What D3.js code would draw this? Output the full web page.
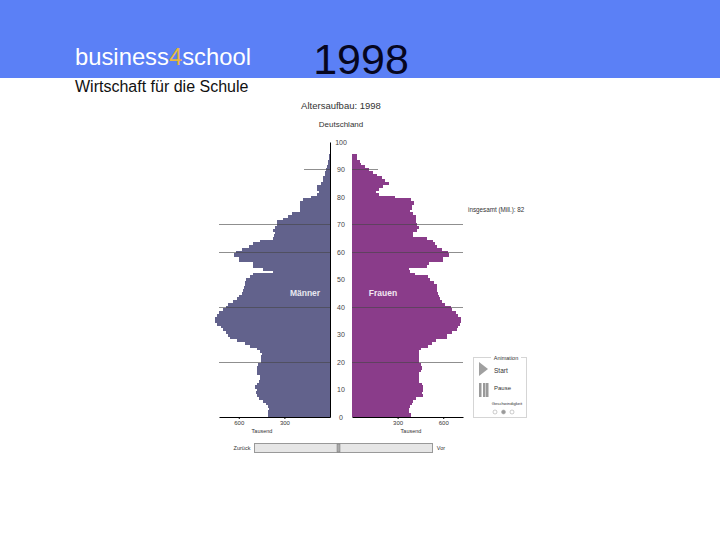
<!DOCTYPE html>
<html>
<head>
<meta charset="utf-8">
<script src="https://cdn.jsdelivr.net/npm/d3@7"></script>
<style>
html, body { margin: 0; padding: 0; background: #fff; }
text { font-family: "Liberation Sans", Arial, sans-serif; }
</style>
</head>
<body>
<svg id="chart" width="720" height="540"></svg>
<script>
'use strict';

var ageTicks = [0, 10, 20, 30, 40, 50, 60, 70, 80, 90, 100];
var gridAges = [20, 40, 60, 70];
var shortGridAges = [90];
var valueTicks = [300, 600];

// thousands per year of age, index = age
var maleValues = [405, 405, 410, 399, 405, 423, 438, 464, 482, 486,
    477, 493, 477, 464, 460, 460, 477, 482, 482, 471,
    456, 456, 456, 449, 460, 482, 526, 558, 613, 657,
    668, 683, 701, 718, 740, 758, 756, 745, 727, 705,
    683, 668, 635, 613, 596, 580, 574, 565, 558, 558,
    552, 526, 504, 377, 438, 504, 504, 596, 598, 629,
    618, 580, 532, 508, 460, 372, 368, 361, 372, 361,
    346, 346, 307, 274, 252, 197, 197, 197, 197, 180,
    127, 83, 72, 88, 83, 61, 48, 44, 33, 31,
    26, 22, 15, 11, 7, 4];

var femaleValues = [388, 388, 377, 374, 381, 392, 403, 420, 464, 458,
    469, 469, 458, 442, 438, 438, 442, 451, 458, 451,
    440, 438, 438, 438, 442, 451, 501, 523, 552, 626,
    626, 655, 692, 699, 710, 714, 714, 699, 683, 655,
    648, 611, 589, 578, 569, 567, 561, 561, 556, 539,
    512, 501, 414, 381, 374, 491, 506, 596, 596, 639,
    633, 591, 556, 548, 530, 491, 399, 403, 429, 438,
    429, 420, 420, 420, 399, 381, 392, 392, 407, 388,
    283, 180, 158, 180, 201, 245, 217, 195, 166, 140,
    114, 85, 57, 53, 31, 31];

var svg = d3.select('#chart');

var y = d3.scaleLinear().domain([0, 100]).range([417, 142]);
var xLeft = d3.scaleLinear().domain([0, 730]).range([330, 219]);
var xRight = d3.scaleLinear().domain([0, 730]).range([352, 463]);
var barHeight = y(0) - y(1);

var maleColor = '#62628c';
var femaleColor = '#8a3c8a';

function barTop(d, i) {
    return y(i) - barHeight / 2;
}

// bars overlap a little to hide seams, the lowest one stops at the baseline
function barBottomHeight(d, i) {
    return Math.min(barHeight + 0.8, y(0) - barTop(d, i));
}

function label(x, yPos, str, size, opts) {
    opts = opts || {};
    return svg.append('text')
        .attr('x', x)
        .attr('y', yPos)
        .attr('font-size', size)
        .attr('text-anchor', opts.anchor || 'middle')
        .attr('font-weight', opts.weight || 'normal')
        .attr('fill', opts.fill || '#333')
        .text(str);
}

// header
svg.append('rect').attr('width', 720).attr('height', 78).attr('fill', '#5b80f6');

var brand = svg.append('text')
    .attr('x', 75)
    .attr('y', 65)
    .attr('font-size', 23.8)
    .attr('fill', '#fff');
brand.append('tspan').text('business');
brand.append('tspan').attr('fill', '#e8b840').text('4');
brand.append('tspan').text('school');

label(75, 92, 'Wirtschaft für die Schule', 16, {anchor: 'start', fill: '#111'});
label(361, 74, '1998', 43, {fill: '#060620'});

// chart titles
label(341, 109, 'Altersaufbau: 1998', 9.5);
label(341, 127, 'Deutschland', 8);
label(468, 212, 'insgesamt (Mill.): 82', 6.3, {anchor: 'start'});

// pyramid
svg.append('g').attr('shape-rendering', 'crispEdges').selectAll('rect')
    .data(maleValues)
    .join('rect')
    .attr('x', function (d) { return xLeft(d); })
    .attr('y', barTop)
    .attr('width', function (d) { return xLeft(0) - xLeft(d); })
    .attr('height', barBottomHeight)
    .attr('fill', maleColor);

svg.append('g').attr('shape-rendering', 'crispEdges').selectAll('rect')
    .data(femaleValues)
    .join('rect')
    .attr('x', xRight(0))
    .attr('y', barTop)
    .attr('width', function (d) { return xRight(d) - xRight(0); })
    .attr('height', barBottomHeight)
    .attr('fill', femaleColor);

// grid lines run over the bars
function gridLine(scale, age, limit) {
    svg.append('line')
        .attr('x1', scale(0)).attr('x2', scale(limit))
        .attr('y1', y(age)).attr('y2', y(age))
        .attr('shape-rendering', 'crispEdges')
        .attr('stroke', '#444').attr('stroke-opacity', 0.6);
}
gridAges.forEach(function (age) {
    gridLine(xLeft, age, 730);
    gridLine(xRight, age, 730);
});
shortGridAges.forEach(function (age) {
    gridLine(xLeft, age, 170);
    gridLine(xRight, age, 170);
});

// age axis, labels sit in the gap between the two halves
var ageAxis = svg.append('g')
    .attr('transform', 'translate(330,0)')
    .call(d3.axisRight(y).tickValues(ageTicks).tickSize(0).tickSizeOuter(0).tickPadding(11));
ageAxis.select('.domain').attr('stroke', '#000');
ageAxis.selectAll('text')
    .attr('text-anchor', 'middle')
    .attr('font-size', 7)
    .attr('font-family', '"Liberation Sans", Arial, sans-serif')
    .attr('fill', '#444');

// value axes
[xLeft, xRight].forEach(function (scale) {
    var a = svg.append('g')
        .attr('transform', 'translate(0,417)')
        .call(d3.axisBottom(scale).tickValues(valueTicks).tickSize(2).tickPadding(2).tickSizeOuter(0));
    a.select('.domain').attr('stroke', '#000');
    a.selectAll('text')
        .attr('font-size', 6)
        .attr('font-family', '"Liberation Sans", Arial, sans-serif')
        .attr('fill', '#333');
});
label(262, 433, 'Tausend', 5.5);
label(411, 433, 'Tausend', 5.5);

label(305, 296, 'Männer', 8.5, {weight: 'bold', fill: '#e8e8f0'});
label(383, 296, 'Frauen', 8.5, {weight: 'bold', fill: '#f3e6f3'});

// slider
label(242, 450, 'Zurück', 5.5);
label(441, 450, 'Vor', 5.5);
svg.append('rect').attr('x', 254.5).attr('y', 443.5).attr('width', 178).attr('height', 9)
    .attr('fill', '#e6e6e6').attr('stroke', '#999');
svg.append('rect').attr('x', 337).attr('y', 444).attr('width', 3).attr('height', 8)
    .attr('fill', '#aaa').attr('stroke', '#777').attr('stroke-width', 0.5);

// animation panel
svg.append('rect').attr('x', 473.5).attr('y', 357.5).attr('width', 53).attr('height', 60)
    .attr('fill', '#fff').attr('stroke', '#d5d5d5');
svg.append('rect').attr('x', 491).attr('y', 354).attr('width', 30).attr('height', 7).attr('fill', '#fff');
label(506, 360, 'Animation', 5.5);
svg.append('path').attr('d', 'M479,362 L488,369 L479,376 Z').attr('fill', '#a0a0a0');
label(494, 373, 'Start', 6.5, {anchor: 'start'});
[479, 483, 486].forEach(function (px) {
    svg.append('rect').attr('x', px).attr('y', 383).attr('width', 2.5).attr('height', 14).attr('fill', '#9a9a9a');
});
label(494, 390, 'Pause', 6, {anchor: 'start'});
label(507, 405, 'Geschwindigkeit', 4.2);
[495, 503.5, 512].forEach(function (px, i) {
    svg.append('circle').attr('cx', px).attr('cy', 412).attr('r', 2)
        .attr('fill', i === 1 ? '#999' : '#fff').attr('stroke', '#aaa').attr('stroke-width', 0.6);
});
</script>
</body>
</html>
